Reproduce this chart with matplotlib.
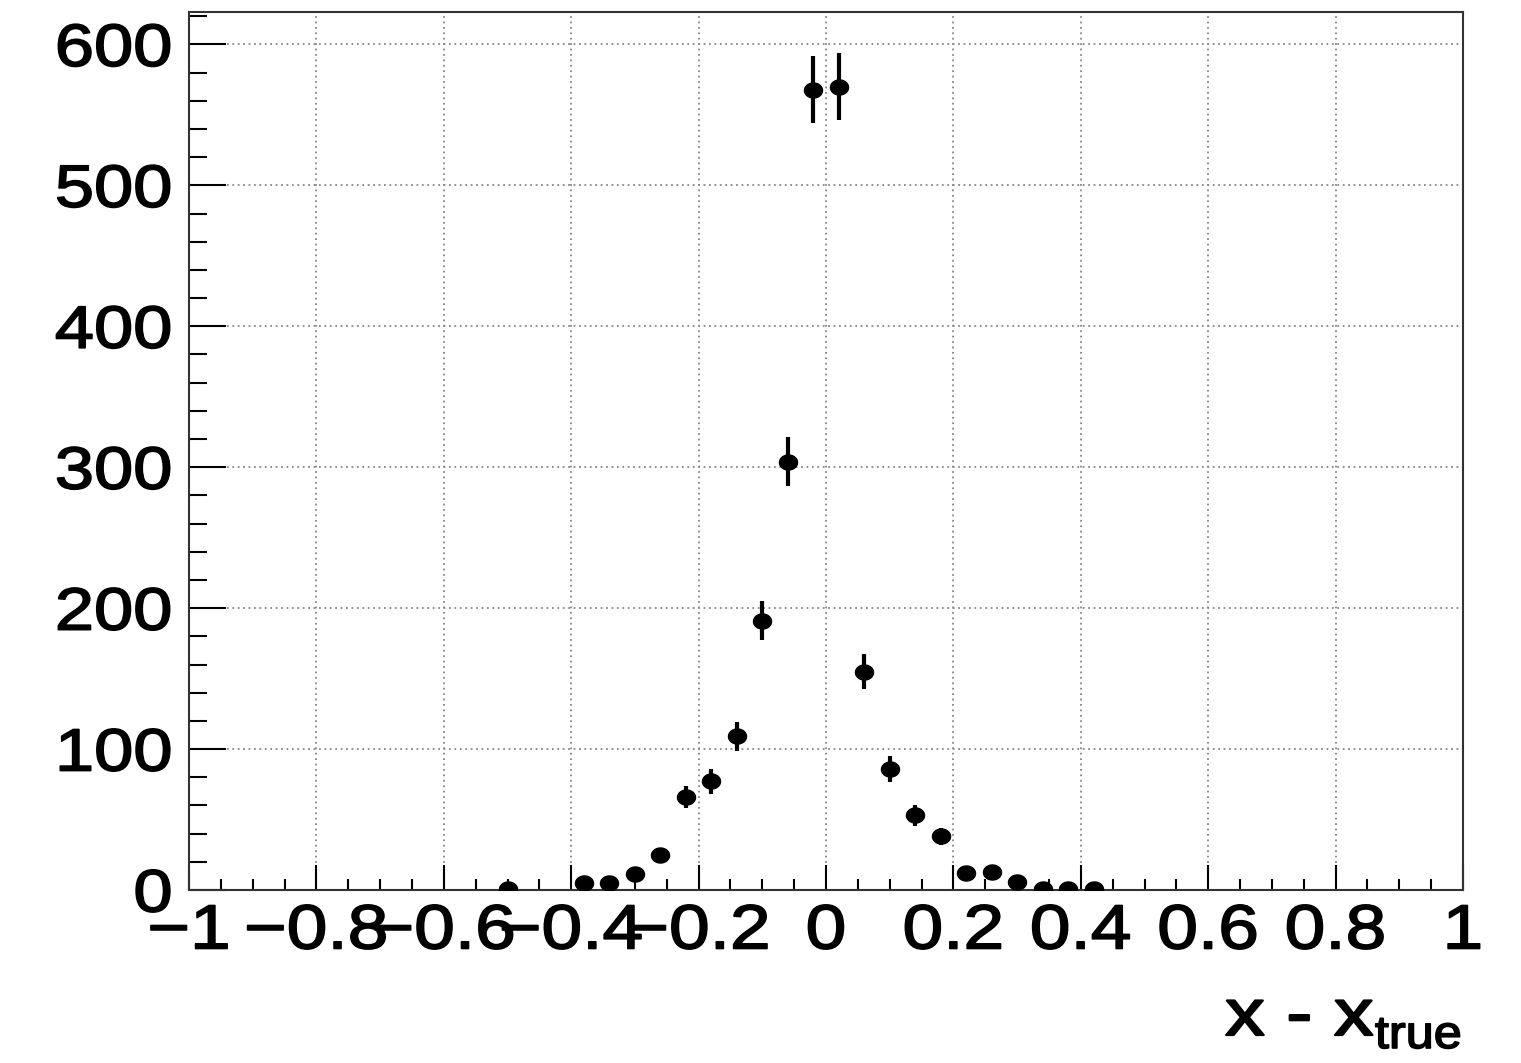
import numpy as np
import matplotlib
matplotlib.use('Agg')
from matplotlib import pyplot as plt
from matplotlib.ticker import MultipleLocator
from matplotlib.patheffects import AbstractPathEffect
from matplotlib.transforms import Affine2D
from matplotlib.path import Path

# bin centres (50 bins from -1 to 1) and counts
bin_x = [-0.50, -0.38, -0.34, -0.30, -0.26, -0.22, -0.18, -0.14, -0.10, -0.06,
         -0.02, 0.02, 0.06, 0.10, 0.14, 0.18, 0.22, 0.26, 0.30, 0.34, 0.38, 0.42]
counts = [1, 5, 5, 11, 25, 66, 77, 109, 191, 304,
          568, 570, 155, 86, 53, 38, 12, 13, 6, 1, 1, 1]
x_ticks = [-1, -0.8, -0.6, -0.4, -0.2, 0, 0.2, 0.4, 0.6, 0.8, 1]
x_tick_labels = ['\u22121', '\u22120.8', '\u22120.6', '\u22120.4', '\u22120.2', '0',
                 '0.2', '0.4', '0.6', '0.8', '1']
x_title = 'x - x'
x_title_sub = 'true'

x = np.array(bin_x)
y = np.array(counts)
yerr = np.sqrt(y)


# the reference text is wider than normal Helvetica: stretch it sideways
class Stretch(AbstractPathEffect):
    def __init__(self, sx, anchor='center', lw=1.2):
        super().__init__()
        self.sx = sx
        self.anchor = anchor
        self.lw = lw

    def draw_path(self, renderer, gc, tpath, affine, rgbFace=None):
        ext = tpath.get_extents(affine)
        if self.anchor == 'center':
            x0 = (ext.x0 + ext.x1) / 2
        elif self.anchor == 'left':
            x0 = ext.x0
        else:
            x0 = ext.x1
        t = affine + Affine2D().translate(-x0, 0).scale(self.sx, 1).translate(x0, 0)
        gc0 = renderer.new_gc()
        gc0.copy_properties(gc)
        gc0.set_linewidth(self.lw)
        gc0.set_foreground('black')
        renderer.draw_path(gc0, tpath, t, rgbFace)
        gc0.restore()


plt.rcParams['font.family'] = ['Liberation Sans', 'DejaVu Sans']

fig = plt.figure(figsize=(15.21, 10.63), dpi=100)
ax = fig.add_axes([189 / 1521, 1 - 890 / 1063, (1463 - 189) / 1521, (890 - 12) / 1063])

# slightly wide marker, like in the reference
th = np.linspace(0, 2 * np.pi, 60)
ell = Path(np.column_stack([1.2 * np.cos(th), np.sin(th)]), closed=True)

ax.errorbar(x, y, yerr=yerr, fmt='none', ecolor='black', elinewidth=3,
            capsize=0, zorder=3)
ax.plot(x, y, linestyle='none', marker=ell, ms=13, color='black', zorder=4)

ax.set_xlim(-1, 1)
ax.set_ylim(0, 623)
ax.xaxis.set_minor_locator(MultipleLocator(0.05))
ax.yaxis.set_major_locator(MultipleLocator(100))
ax.yaxis.set_minor_locator(MultipleLocator(20))
ax.set_xticks(x_ticks)
ax.set_xticklabels(x_tick_labels)
ax.tick_params(axis='x', which='major', direction='in', length=18, width=1.5,
               labelsize=45, pad=9, top=False)
ax.tick_params(axis='x', which='minor', direction='in', length=8, width=1.5, top=False)
ax.tick_params(axis='y', which='major', direction='in', length=26.5, width=1.5,
               labelsize=43, pad=12, right=False)
ax.tick_params(axis='y', which='minor', direction='in', length=13, width=1.5, right=False)
for lab in ax.get_xticklabels():
    lab.set_path_effects([Stretch(1.17, 'center')])
for lab in ax.get_yticklabels():
    lab.set_path_effects([Stretch(1.18, 'right')])
for s in ax.spines.values():
    s.set_linewidth(1.5)
    s.set_color('#333333')

ax.grid(True, which='major', linestyle=(0, (1, 2)), color='#888888', linewidth=1.3)
ax.set_axisbelow(True)

t1 = fig.text(1373 / 1521, 1 - 1035 / 1063, x_title, fontsize=47,
              ha='right', va='baseline')
t1.set_path_effects([Stretch(1.2, 'right', lw=1.6)])
t2 = fig.text(1375 / 1521, 1 - 1048 / 1063, x_title_sub, fontsize=33,
              ha='left', va='baseline')
t2.set_path_effects([Stretch(1.1, 'left', lw=1.2)])

fig.savefig('out.png', dpi=100)
